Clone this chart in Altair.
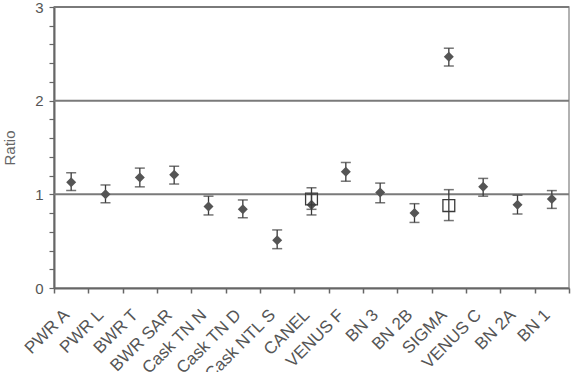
import altair as alt
import pandas as pd

# Benchmark cases along the x axis
cases = ["PWR A", "PWR L", "BWR T", "BWR SAR", "Cask TN N", "Cask TN D",
         "Cask NTL S", "CANEL", "VENUS F", "BN 3", "BN 2B", "SIGMA",
         "VENUS C", "BN 2A", "BN 1"]

# Filled-diamond series: ratio with lower / upper uncertainty bounds
diamond_ratio = [1.13, 1.00, 1.18, 1.21, 0.87, 0.84, 0.51, 0.89, 1.24, 1.02, 0.80, 2.47, 1.08, 0.89, 0.95]
diamond_low   = [1.04, 0.91, 1.08, 1.11, 0.78, 0.75, 0.42, 0.78, 1.14, 0.91, 0.70, 2.37, 0.98, 0.79, 0.85]
diamond_high  = [1.23, 1.10, 1.28, 1.30, 0.98, 0.94, 0.62, 1.00, 1.34, 1.12, 0.90, 2.56, 1.17, 0.99, 1.04]

# Open-square series (only two cases)
square_cases = ["CANEL", "SIGMA"]
square_ratio = [0.95, 0.88]
square_low   = [0.84, 0.72]
square_high  = [1.07, 1.05]

# Horizontal reference lines
ref_levels = [1, 2, 3]

dia = pd.DataFrame({"case": cases, "ratio": diamond_ratio, "lo": diamond_low, "hi": diamond_high})
sq = pd.DataFrame({"case": square_cases, "ratio": square_ratio, "lo": square_low, "hi": square_high})
refs = pd.DataFrame({"level": ref_levels})

FONT = "Liberation Sans"
INK = "#3a3a3a"

x_enc = alt.X("case:N", sort=cases, title=None,
              scale=alt.Scale(paddingInner=0, paddingOuter=0),
              axis=alt.Axis(labelAngle=-45, labelAlign="right", labelBaseline="middle",
                            labelPadding=19, labelOffset=-5, tickBand="extent",
                            tickSize=5, tickColor="#666", tickWidth=1.5,
                            domainColor="#666", domainWidth=2, labelOverlap=False,
                            labelFont=FONT, labelFontSize=17, labelColor="#555"))
y_scale = alt.Scale(domain=[0, 3], nice=False, zero=True)
y_ticks = [round(i * 0.2, 1) for i in range(16)]
y_axis = alt.Axis(values=y_ticks, grid=False, labelOverlap=False,
                  labelExpr="abs(datum.value - round(datum.value)) < 0.01 ? format(datum.value, 'd') : ''",
                  tickSize=5, tickColor="#666", tickWidth=1.2,
                  domainColor="#666", domainWidth=2,
                  labelFont=FONT, labelFontSize=15, labelColor="#555", labelPadding=6,
                  title="Ratio", titleFont=FONT, titleFontSize=15, titleColor="#666666",
                  titleFontWeight="normal", titlePadding=17)


def y_of(field):
    # every layer shares the ratio scale and the same axis definition
    return alt.Y(field, scale=y_scale, axis=y_axis, title="Ratio")


ref_rules = alt.Chart(refs).mark_rule(color="#7a7a7a", strokeWidth=2).encode(
    y=y_of("level:Q")
)

def error_layers(df):
    base = alt.Chart(df)
    stem = base.mark_rule(color=INK, strokeWidth=1.3).encode(
        x=x_enc, y=y_of("lo:Q"), y2="hi:Q")
    top = base.mark_tick(color=INK, thickness=1.5, size=10, orient="horizontal").encode(
        x=x_enc, y=y_of("hi:Q"))
    bot = base.mark_tick(color=INK, thickness=1.5, size=10, orient="horizontal").encode(
        x=x_enc, y=y_of("lo:Q"))
    return [stem, top, bot]

diamonds = alt.Chart(dia).mark_point(shape="diamond", filled=True, color="#555555",
                                     size=100, opacity=1).encode(
    x=x_enc, y=y_of("ratio:Q"))
squares = alt.Chart(sq).mark_point(shape="square", filled=False, color=INK,
                                   size=140, strokeWidth=1.3, opacity=1).encode(
    x=x_enc, y=y_of("ratio:Q"))

chart = alt.layer(
    ref_rules,
    *error_layers(dia),
    diamonds,
    *error_layers(sq),
    squares,
).properties(
    width=515, height=281,
    autosize=alt.AutoSizeParams(type="none"),
    padding={"left": 54, "top": 7, "right": 5, "bottom": 84},
    background="white",
).configure_view(stroke="#999999", strokeWidth=1.5).configure_axisY(labelOverlap=False)

chart.save("out.html", embed_options={"renderer": "svg", "actions": False})
